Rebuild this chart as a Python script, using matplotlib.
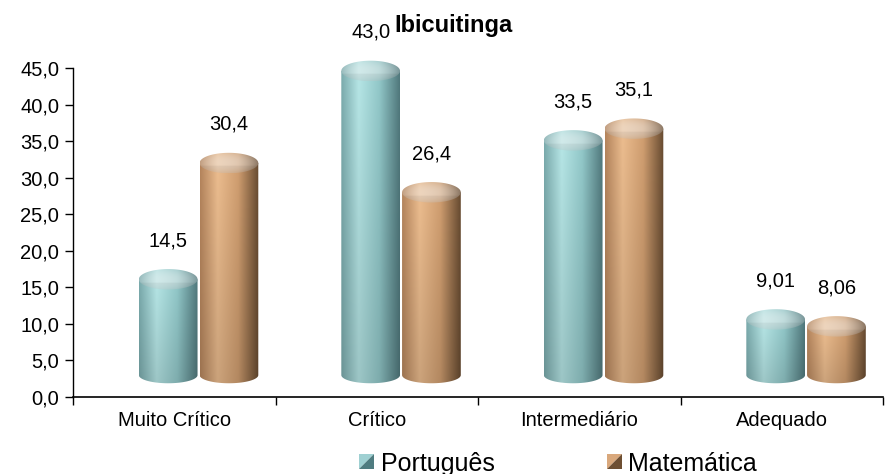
import numpy as np
import matplotlib
matplotlib.use("Agg")
import matplotlib.pyplot as plt
from matplotlib.path import Path
from matplotlib.patches import PathPatch, Polygon, Patch
from matplotlib.legend_handler import HandlerBase

plt.rcParams['font.family'] = ['Liberation Sans', 'DejaVu Sans']

categories = ["Muito Crítico", "Crítico", "Intermediário", "Adequado"]
portugues = [14.5, 43.0, 33.5, 9.01]
matematica = [30.4, 26.4, 35.1, 8.06]
series_names = ["Português", "Matemática"]
y_ticks = [0, 5, 10, 15, 20, 25, 30, 35, 40, 45]
title = "Ibicuitinga"

# colour stops (position, rgb) for the horizontal shading of each cylinder
teal_stops = [(0.0, (122, 170, 172)), (0.3, (182, 230, 230)), (0.65, (146, 200, 201)), (1.0, (80, 120, 124))]
tan_stops = [(0.0, (180, 132, 92)), (0.3, (236, 189, 143)), (0.65, (208, 158, 112)), (1.0, (102, 74, 48))]


def ramp(stops, n):
    t = np.linspace(0, 1, n)
    pos = [s[0] for s in stops]
    out = np.zeros((n, 3))
    for c in range(3):
        out[:, c] = np.interp(t, pos, [s[1][c] for s in stops]) / 255.0
    return out


def ellipse_pts(cx, cy, w, e, a0, a1, n=60):
    a = np.linspace(a0, a1, n)
    return np.column_stack([cx + w / 2 * np.cos(a), cy + e * np.sin(a)])


def cylinder(ax, cx, value, w, stops, z):
    base = 3.0
    e = 1.4
    top = value + 1.6
    x0, x1 = cx - w / 2, cx + w / 2
    # body outline: top edge, right side, front half of bottom ellipse, left side
    bottom = ellipse_pts(cx, base, w, e * 0.8, 0, -np.pi)
    verts = np.vstack([[[x0, top], [x1, top], [x1, base]], bottom, [[x0, top]]])
    codes = [Path.MOVETO] + [Path.LINETO] * (len(verts) - 2) + [Path.CLOSEPOLY]
    body = PathPatch(Path(verts, codes), facecolor='none', edgecolor='none', transform=ax.transData)
    ax.add_patch(body)
    prof = ramp(stops, 200)
    vert = np.linspace(0.86, 1.0, 100)[:, None, None]
    img = np.clip(prof[None, :, :] * vert, 0, 1)
    im = ax.imshow(img, extent=(x0, x1, base - e, top), origin='lower', aspect='auto',
                   interpolation='bilinear', zorder=z)
    im.set_clip_path(body)
    # top cap: body shading lightened towards the back of the ellipse
    cap_v = ellipse_pts(cx, top, w, e, 0, 2 * np.pi, 100)
    cap = Polygon(cap_v, closed=True, facecolor='none', edgecolor='none', transform=ax.transData)
    ax.add_patch(cap)
    yy = np.linspace(-1, 1, 80)[:, None, None]
    xx = np.linspace(-1, 1, 200)[None, :, None]
    rim = np.clip(1 - (xx ** 2 + yy ** 2), 0, 1)
    light = 0.25 + 0.25 * rim
    cimg = prof[None, :, :] * (1 - light) + light
    cimg = cimg * (0.97 - 0.05 * (yy < -0.3))
    im2 = ax.imshow(np.clip(cimg, 0, 1), extent=(x0, x1, top - e, top + e), origin='lower',
                    aspect='auto', interpolation='bilinear', zorder=z + 0.5)
    im2.set_clip_path(cap)


def fmt(v):
    s = f"{v:.1f}" if v >= 10 else f"{v:.2f}"
    return s.replace('.', ',')


class SquareHandler(HandlerBase):
    def __init__(self, light, dark):
        super().__init__()
        self.light = light
        self.dark = dark

    def create_artists(self, legend, orig_handle, xdescent, ydescent, width, height, fontsize, trans):
        s = min(width, height)
        x0 = -xdescent + (width - s) / 2
        y0 = -ydescent + (height - s) / 2
        t1 = Polygon([(x0, y0), (x0, y0 + s), (x0 + s, y0 + s)], facecolor=self.light,
                     edgecolor='none', transform=trans)
        t2 = Polygon([(x0, y0), (x0 + s, y0), (x0 + s, y0 + s)], facecolor=self.dark,
                     edgecolor='none', transform=trans)
        return [t1, t2]


fig = plt.figure(figsize=(8.86, 4.74), dpi=100)
# axes extends above 45 so the tallest cap is not clipped; the spine stops at 45
ymax = 50
ax = fig.add_axes([73 / 886, 77 / 474, 810 / 886, 329 / 474 * ymax / 45])

w = 0.29
x = np.arange(len(categories))
for i in range(len(categories)):
    cylinder(ax, x[i] + 0.27, matematica[i], w, tan_stops, 1 + i * 2)
    cylinder(ax, x[i] - 0.03, portugues[i], w, teal_stops, 2 + i * 2)
    ax.text(x[i] - 0.03, portugues[i] + 6.9, fmt(portugues[i]), ha='center', va='center',
            fontsize=14.5, zorder=20)
    ax.text(x[i] + 0.27, matematica[i] + 6.9, fmt(matematica[i]), ha='center', va='center',
            fontsize=14.5, zorder=20)

ax.set_xlim(-0.5, len(categories) - 0.5)
ax.set_ylim(0, ymax)
ax.set_yticks(y_ticks)
ax.set_yticklabels([f"{v:.1f}".replace('.', ',') for v in y_ticks], fontsize=14.5)
ax.set_xticks(np.arange(len(categories) + 1) - 0.5)
ax.set_xticklabels([])
ax.set_xticks(x, minor=True)
ax.set_xticklabels(categories, minor=True, fontsize=14.5)
ax.tick_params(axis='x', which='major', length=6, width=1, direction='out')
ax.tick_params(axis='x', which='minor', length=0, pad=10)
ax.tick_params(axis='y', length=6, width=1, direction='out', pad=4)
for side in ['top', 'right']:
    ax.spines[side].set_visible(False)
ax.spines['left'].set_bounds(0, 45)
ax.spines['left'].set_linewidth(1)
ax.spines['bottom'].set_linewidth(1.2)
ax.patch.set_visible(False)

fig.text(0.512, 0.946, title, ha='center', va='center', fontsize=17, fontweight='bold', zorder=0)

h1 = Patch(label=series_names[0])
h2 = Patch(label=series_names[1])
fig.legend(handles=[h1, h2], loc='center', bbox_to_anchor=(0.63, 0.022), ncol=2, frameon=False,
           fontsize=18, handlelength=0.6, handleheight=0.6, handletextpad=0.25, columnspacing=4.5,
           handler_map={h1: SquareHandler('#9fd0d2', '#4f7c80'), h2: SquareHandler('#d9a87c', '#6e4f32')})

fig.savefig("out.png", dpi=100)
